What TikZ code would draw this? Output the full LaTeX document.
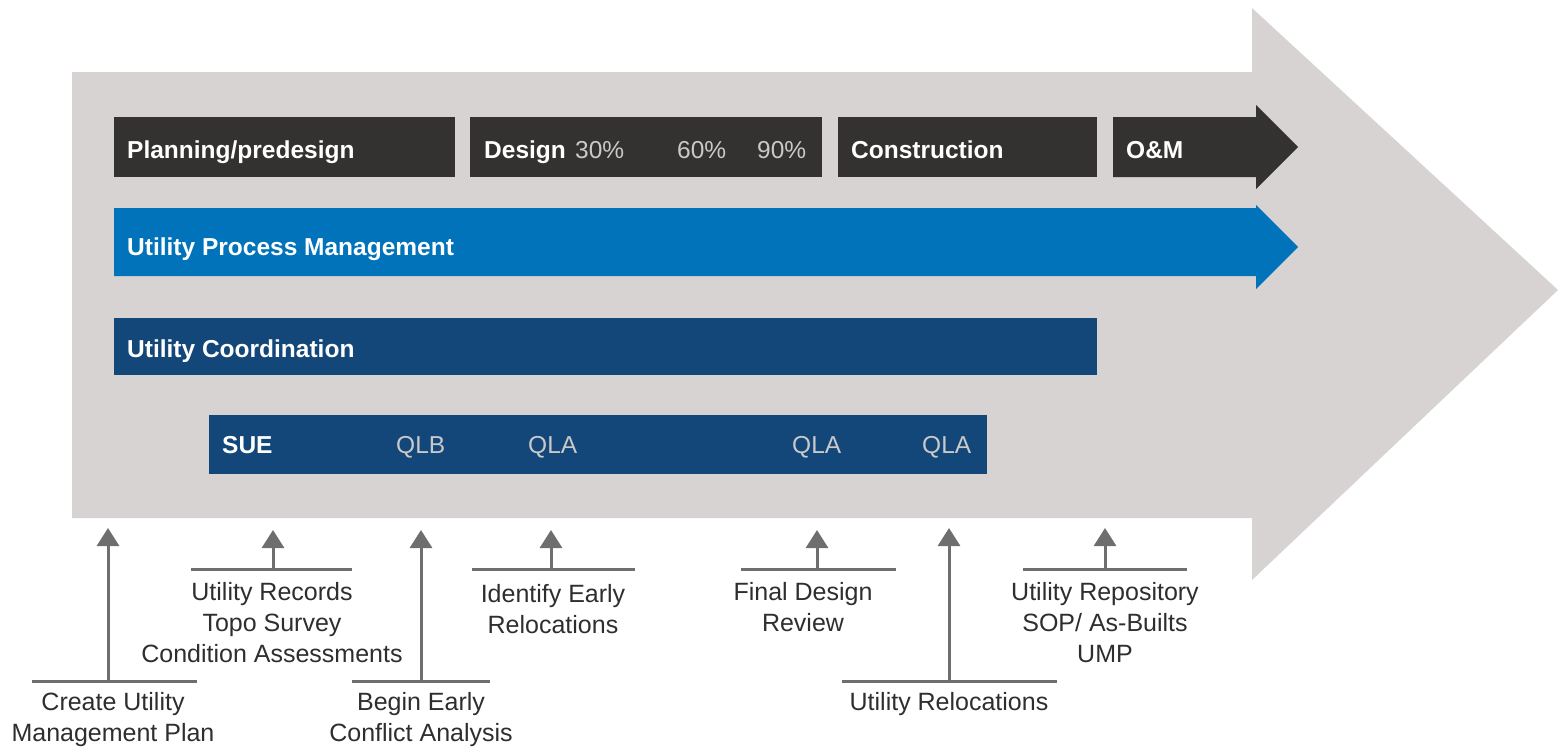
\documentclass[tikz,border=0pt]{standalone}
\usepackage{fontspec}
\setmainfont{Liberation Sans}
\usetikzlibrary{arrows.meta}
\definecolor{arrowgray}{HTML}{D6D3D2}
\definecolor{phasegray}{HTML}{333231}
\definecolor{processblue}{HTML}{0073BA}
\definecolor{coordblue}{HTML}{134679}
\definecolor{pctgray}{HTML}{C9C9C9}
\definecolor{stemgray}{HTML}{6E6E6E}
\definecolor{labelgray}{HTML}{2E2E2E}

\begin{document}
\begin{tikzpicture}[x=1pt,y=1pt,yscale=-1,xscale=1,
  bartext/.style={anchor=base west,inner sep=0pt,text=white,font=\fontsize{24.5}{29}\selectfont\bfseries},
  subtext/.style={anchor=base west,inner sep=0pt,text=pctgray,font=\fontsize{24.5}{29}\selectfont},
  milestone/.style={anchor=north,inner sep=0pt,align=center,text=labelgray,font=\fontsize{25}{31}\selectfont},
  stem/.style={draw=stemgray,line width=3pt,-{Triangle[width=22pt,length=18pt]}},
  ledge/.style={draw=stemgray,line width=3pt}]
\useasboundingbox (0,0) rectangle (1558,747);

% Big arrow
\fill[arrowgray] (72,72) -- (1252,72) -- (1252,8) -- (1558,290) -- (1252,580) -- (1252,518) -- (72,518) -- cycle;

% Phase bars
\fill[phasegray] (114,117) rectangle (455,177);
\fill[phasegray] (470,117) rectangle (822,177);
\fill[phasegray] (838,117) rectangle (1097,177);
\fill[phasegray] (1113,117) -- (1256,117) -- (1256,105) -- (1298,147) -- (1256,189) -- (1256,177) -- (1113,177) -- cycle;

% Process arrow and coordination bars
\fill[processblue] (114,208) -- (1256,208) -- (1256,205) -- (1298,247) -- (1256,289) -- (1256,276) -- (114,276) -- cycle;
\fill[coordblue] (114,318) rectangle (1097,375);
\fill[coordblue] (209,415) rectangle (987,474);

% Text Node
\node[bartext] (plan) at (127,158) {Planning/predesign};
\node[bartext] (design) at (484,158) {Design};
\node[subtext] (d30) at (575,158) {30\%};
\node[subtext] (d60) at (677,158) {60\%};
\node[subtext] (d90) at (757,158) {90\%};
\node[bartext] (constr) at (851,158) {Construction};
\node[bartext] (om) at (1126,158) {O\&M};
\node[bartext] (upm) at (127,255) {Utility Process Management};
\node[bartext] (uc) at (127,357) {Utility Coordination};
\node[bartext] (sue) at (222,453) {SUE};
\node[subtext] (qlb) at (396,453) {QLB};
\node[subtext] (qla1) at (528,453) {QLA};
\node[subtext] (qla2) at (792,453) {QLA};
\node[subtext] (qla3) at (922,453) {QLA};

% Milestones
\node[milestone] (ump) at (113,692) {Create Utility\\Management Plan};
\node[milestone] (records) at (272,582) {Utility Records\\Topo Survey\\Condition Assessments};
\node[milestone] (conflict) at (421,692) {Begin Early\\Conflict Analysis};
\node[milestone] (early) at (553,584) {Identify Early\\Relocations};
\node[milestone] (review) at (803,582) {Final Design\\Review};
\node[milestone] (reloc) at (949,692) {Utility Relocations};
\node[milestone] (repo) at (1105,582) {Utility Repository\\SOP/ As-Builts\\UMP};

\coordinate (ump-l) at (32,681);   \coordinate (ump-r) at (197,681);
\coordinate (ump-f) at (108,681);  \coordinate (ump-t) at (108,528);
\coordinate (rec-l) at (191,569);  \coordinate (rec-r) at (352,569);
\coordinate (rec-f) at (273,569);  \coordinate (rec-t) at (273,530);
\coordinate (con-l) at (352,681);  \coordinate (con-r) at (490,681);
\coordinate (con-f) at (421,681);  \coordinate (con-t) at (421,530);
\coordinate (ear-l) at (472,569);  \coordinate (ear-r) at (635,569);
\coordinate (ear-f) at (551,569);  \coordinate (ear-t) at (551,530);
\coordinate (rev-l) at (741,569);  \coordinate (rev-r) at (896,569);
\coordinate (rev-f) at (817,569);  \coordinate (rev-t) at (817,530);
\coordinate (rel-l) at (842,681);  \coordinate (rel-r) at (1057,681);
\coordinate (rel-f) at (949,681);  \coordinate (rel-t) at (949,528);
\coordinate (rep-l) at (1023,569); \coordinate (rep-r) at (1187,569);
\coordinate (rep-f) at (1105,569); \coordinate (rep-t) at (1105,528);

\draw[ledge] (ump-l) -- (ump-r);
\draw[ledge] (rec-l) -- (rec-r);
\draw[ledge] (con-l) -- (con-r);
\draw[ledge] (ear-l) -- (ear-r);
\draw[ledge] (rev-l) -- (rev-r);
\draw[ledge] (rel-l) -- (rel-r);
\draw[ledge] (rep-l) -- (rep-r);

\draw[stem] (ump-f) -- (ump-t);
\draw[stem] (rec-f) -- (rec-t);
\draw[stem] (con-f) -- (con-t);
\draw[stem] (ear-f) -- (ear-t);
\draw[stem] (rev-f) -- (rev-t);
\draw[stem] (rel-f) -- (rel-t);
\draw[stem] (rep-f) -- (rep-t);

\end{tikzpicture}
\end{document}
